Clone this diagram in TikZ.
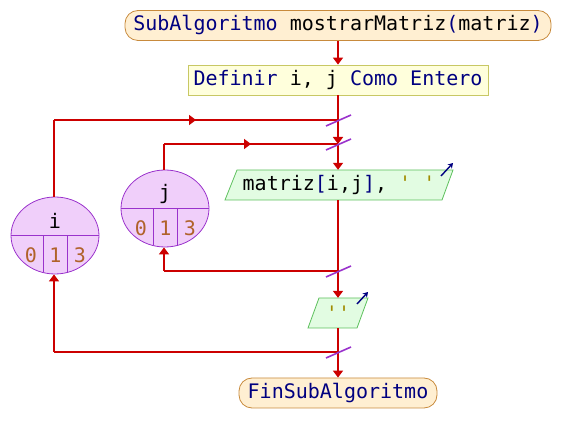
\documentclass[tikz,border=0pt]{standalone}
\usepackage{fontspec}
\setmonofont{DejaVu Sans Mono}
\usetikzlibrary{arrows.meta,shapes.geometric,decorations.markings}
\definecolor{kw}{HTML}{000080}
\definecolor{flowred}{HTML}{CC0000}
\definecolor{termfill}{HTML}{FFEFD2}
\definecolor{termdraw}{HTML}{C88A3C}
\definecolor{procfill}{HTML}{FFFFDC}
\definecolor{procdraw}{HTML}{C8C864}
\definecolor{iofill}{HTML}{E2FCE2}
\definecolor{iodraw}{HTML}{5CC05C}
\definecolor{loopfill}{HTML}{F0CFFA}
\definecolor{loopdraw}{HTML}{9A32CC}
\definecolor{numc}{HTML}{B0622A}
\definecolor{strc}{HTML}{A08C00}
\tikzset{
  txt/.style={font=\ttfamily\fontsize{20}{24}\selectfont, inner sep=0pt},
  term/.style={txt, draw=termdraw, fill=termfill, rounded corners=13pt, line width=0.8pt, minimum height=30pt},
  proc/.style={txt, draw=procdraw, fill=procfill, line width=0.8pt, minimum height=30pt},
  iotext/.style={txt, minimum height=30pt},
  iobox/.style={draw=iodraw, fill=iofill, line width=0.8pt},
  loopnode/.style={ellipse, draw=loopdraw, fill=loopfill, line width=0.8pt, minimum width=88pt, minimum height=77pt, inner sep=0pt},
  loopline/.style={draw=loopdraw, line width=0.8pt},
  flow/.style={draw=flowred, line width=1.6pt},
  flowarr/.style={flow, -{Triangle[width=10pt,length=7pt]}},
  midarr/.style={flow, postaction={decorate}, decoration={markings, mark=at position 0.5 with {\arrow[flowred]{Triangle[width=10pt,length=7pt]}}}},
  slashmark/.style={draw=loopdraw, line width=1.6pt},
  outicon/.style={draw=kw, line width=1.4pt, -{Stealth[width=6pt,length=5pt]}}
}
\begin{document}
\begin{tikzpicture}[x=1pt,y=-1pt]
\useasboundingbox (0,0) rectangle (576,443);

% nodes
\node[term, minimum width=426pt] (top) at (338,25.5) {{\color{kw}SubAlgoritmo} mostrarMatriz{\color{kw}(}matriz{\color{kw})}};
\node[proc, minimum width=300pt] (def) at (338,80) {{\color{kw}Definir} i, j {\color{kw}Como Entero}};

% output 1
\fill[iofill] (237,170) -- (453,170) -- (442,200) -- (225,200) -- cycle;
\draw[iodraw, line width=0.8pt] (237,170) -- (453,170) -- (442,200) -- (225,200) -- cycle;
\node[iotext, minimum width=216pt] (out1) at (339,185) {matriz{\color{kw}[}i,j{\color{kw}]}, {\color{strc}\textquotesingle\ \textquotesingle}};
\draw[outicon] (441,176) -- (453,163);

% output 2
\fill[iofill] (319,298) -- (368,298) -- (357,328) -- (308,328) -- cycle;
\draw[iodraw, line width=0.8pt] (319,298) -- (368,298) -- (357,328) -- (308,328) -- cycle;
\node[iotext, minimum width=48pt] (out2) at (338,313) {{\color{strc}\textquotesingle\textquotesingle}};
\draw[outicon] (357,304) -- (368,292);

\node[term, minimum width=198pt] (fin) at (338,393) {{\color{kw}FinSubAlgoritmo}};

% loop nodes
\node[loopnode] (i) at (55,235.5) {};
\draw[loopline] (i.west) -- (i.east);
\draw[loopline] ([xshift=-12pt]i.center) -- ++(0,37);
\draw[loopline] ([xshift=12pt]i.center) -- ++(0,37);
\node[txt] (ilab) at (55,221) {i};
\node[txt, text=numc] (i0) at (31,255) {0};
\node[txt, text=numc] (i1) at (55.5,255) {1};
\node[txt, text=numc] (i3) at (80,255) {3};

\node[loopnode] (j) at (165,208.5) {};
\draw[loopline] (j.west) -- (j.east);
\draw[loopline] ([xshift=-12pt]j.center) -- ++(0,37);
\draw[loopline] ([xshift=12pt]j.center) -- ++(0,37);
\node[txt] (jlab) at (165,194) {j};
\node[txt, text=numc] (j0) at (141,228) {0};
\node[txt, text=numc] (j1) at (165.5,228) {1};
\node[txt, text=numc] (j3) at (190,228) {3};

% junction coordinates
\coordinate (c1) at (338,120);
\coordinate (c2) at (338,144);
\coordinate (c3) at (338,271);
\coordinate (c4) at (338,352);
\coordinate (it) at (54,120);
\coordinate (jt) at (164,144);
\coordinate (ib) at (54,352);
\coordinate (jb) at (164,271);

% connectors
\draw[flowarr] (top.south) -- (def.north);
\draw[flow] (def.south) -- (c1);
\draw[flow] ([xshift=-1pt]i.north) -- (it);
\draw[midarr] (it) -- (c1);
\draw[flowarr] (c1) -- (c2);
\draw[flow] ([xshift=-1pt]j.north) -- (jt);
\draw[midarr] (jt) -- (c2);
\draw[flowarr] (c2) -- (out1.north -| c2);
\draw[flow] (out1.south -| c2) -- (c3);
\draw[flow] (c3) -- (jb);
\draw[flowarr] (jb) -- ([xshift=-1pt]j.south);
\draw[flowarr] (c3) -- (out2.north);
\draw[flow] (out2.south) -- (c4);
\draw[flow] (c4) -- (ib);
\draw[flowarr] (ib) -- ([xshift=-1pt]i.south);
\draw[flowarr] (c4) -- (fin.north);

% loop marks
\foreach \c in {c1,c2,c3,c4}
  \draw[slashmark] ([shift={(-12,6)}]\c) -- ([shift={(13,-5)}]\c);
\end{tikzpicture}
\end{document}
